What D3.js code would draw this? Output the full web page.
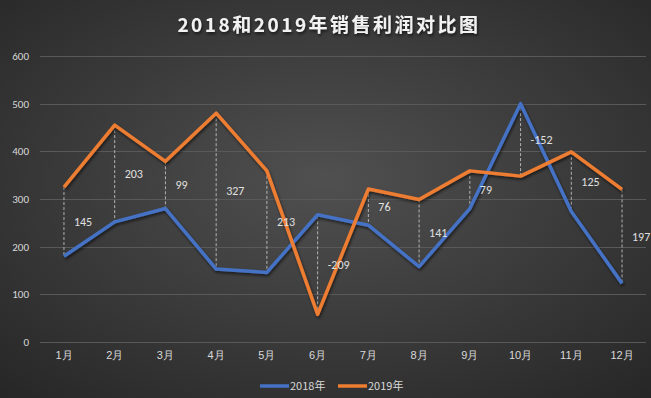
<!DOCTYPE html>
<html>
<head>
<meta charset="utf-8">
<script src="https://cdn.jsdelivr.net/npm/d3@7"></script>
<style>
  body { margin: 0; background: #333; }
  svg { display: block; font-family: "Microsoft YaHei", "Noto Sans CJK SC", sans-serif; }
</style>
</head>
<body>
<svg width="651" height="398"></svg>
<script>
var months   = ['1月','2月','3月','4月','5月','6月','7月','8月','9月','10月','11月','12月'];
var sales2018 = [180, 252, 280, 153, 146, 267, 245, 158, 280, 500, 274, 123];
var sales2019 = [325, 455, 379, 480, 359, 58, 321, 299, 359, 348, 399, 320];
var yTicks   = [0, 100, 200, 300, 400, 500, 600];
var seriesNames = ['2018年', '2019年'];

var W = 651, H = 398;
var svg = d3.select('svg');

// dark radial background
var defs = svg.append('defs');
var grad = defs.append('radialGradient').attr('id', 'bg')
  .attr('cx', '50%').attr('cy', '45%').attr('r', '75%');
grad.append('stop').attr('offset', '0%').attr('stop-color', '#505050');
grad.append('stop').attr('offset', '100%').attr('stop-color', '#262626');
var f = defs.append('filter').attr('id', 'shadow').attr('x', '-5%').attr('y', '-5%').attr('width', '110%').attr('height', '110%');
f.append('feDropShadow').attr('dx', 1).attr('dy', 2).attr('stdDeviation', 1.5)
  .attr('flood-color', '#000').attr('flood-opacity', 0.6);

svg.append('rect').attr('width', W).attr('height', H).attr('fill', 'url(#bg)');

var x = d3.scaleBand().domain(months).range([38.6, 647.4]);
var y = d3.scaleLinear().domain([0, 600]).range([342, 56]);
var cx = function(m) { return x(m) + x.bandwidth() / 2; };

// gridlines
svg.append('g').selectAll('line').data(yTicks).enter().append('line')
  .attr('x1', 40).attr('x2', 646)
  .attr('y1', function(d) { return Math.round(y(d)) + 0.5; })
  .attr('y2', function(d) { return Math.round(y(d)) + 0.5; })
  .attr('stroke', '#595959').attr('stroke-width', 1);

// y axis labels
var yAxis = svg.append('g').attr('transform', 'translate(29,0)')
  .call(d3.axisLeft(y).tickValues(yTicks).tickSize(0).tickPadding(0));
yAxis.select('.domain').remove();
yAxis.selectAll('text').attr('fill', '#d9d9d9').style('font-size', '11px')
  .style('font-family', 'Calibri, "Liberation Sans", sans-serif');

// x axis labels
var xAxis = svg.append('g').attr('transform', 'translate(0,351)')
  .call(d3.axisBottom(x).tickSize(0).tickPadding(0));
xAxis.select('.domain').remove();
xAxis.selectAll('text').attr('fill', '#d9d9d9').style('font-size', '11px');

// dashed drop lines between the two series
svg.append('g').selectAll('line').data(months).enter().append('line')
  .attr('x1', function(m) { return cx(m); })
  .attr('x2', function(m) { return cx(m); })
  .attr('y1', function(m, i) { return y(sales2019[i]); })
  .attr('y2', function(m, i) { return y(sales2018[i]); })
  .attr('stroke', '#d0d0d0').attr('stroke-width', 0.8)
  .attr('stroke-dasharray', '3,2');

var line = d3.line().x(function(d) { return cx(d.m); }).y(function(d) { return y(d.v); });
var series = [
  { name: seriesNames[0], color: '#4472C4', values: sales2018 },
  { name: seriesNames[1], color: '#ED7D31', values: sales2019 }
];

svg.append('g').attr('filter', 'url(#shadow)').selectAll('path').data(series).enter().append('path')
  .attr('d', function(s) { return line(s.values.map(function(v, i) { return { m: months[i], v: v }; })); })
  .attr('fill', 'none')
  .attr('stroke', function(s) { return s.color; })
  .attr('stroke-width', 3.5)
  .attr('stroke-linejoin', 'round');

// difference labels
svg.append('g').selectAll('text').data(months).enter().append('text')
  .attr('x', function(m) { return cx(m) + 10; })
  .attr('y', function(m, i) { return (y(sales2019[i]) + y(sales2018[i])) / 2; })
  .attr('dy', '0.35em')
  .attr('fill', '#e0e0e0').style('font-size', '12px')
  .style('font-family', 'Calibri, "Liberation Sans", sans-serif')
  .text(function(m, i) { return sales2019[i] - sales2018[i]; });

// title
svg.append('text').attr('x', 329).attr('y', 32).attr('text-anchor', 'middle')
  .attr('fill', '#f2f2f2').style('font-size', '19px').style('font-weight', 'bold')
  .style('letter-spacing', '2.5px').attr('filter', 'url(#shadow)')
  .text('2018和2019年销售利润对比图');

// legend
var leg = svg.append('g').selectAll('g').data(series).enter().append('g')
  .attr('transform', function(s, i) { return 'translate(' + (260 + i * 78) + ',386)'; });
leg.append('line').attr('x1', 0).attr('x2', 29)
  .attr('stroke', function(s) { return s.color; }).attr('stroke-width', 3.5);
leg.append('text').attr('x', 30).attr('dy', '0.35em')
  .attr('fill', '#d9d9d9').style('font-size', '11px')
  .text(function(s) { return s.name; });
</script>
</body>
</html>
